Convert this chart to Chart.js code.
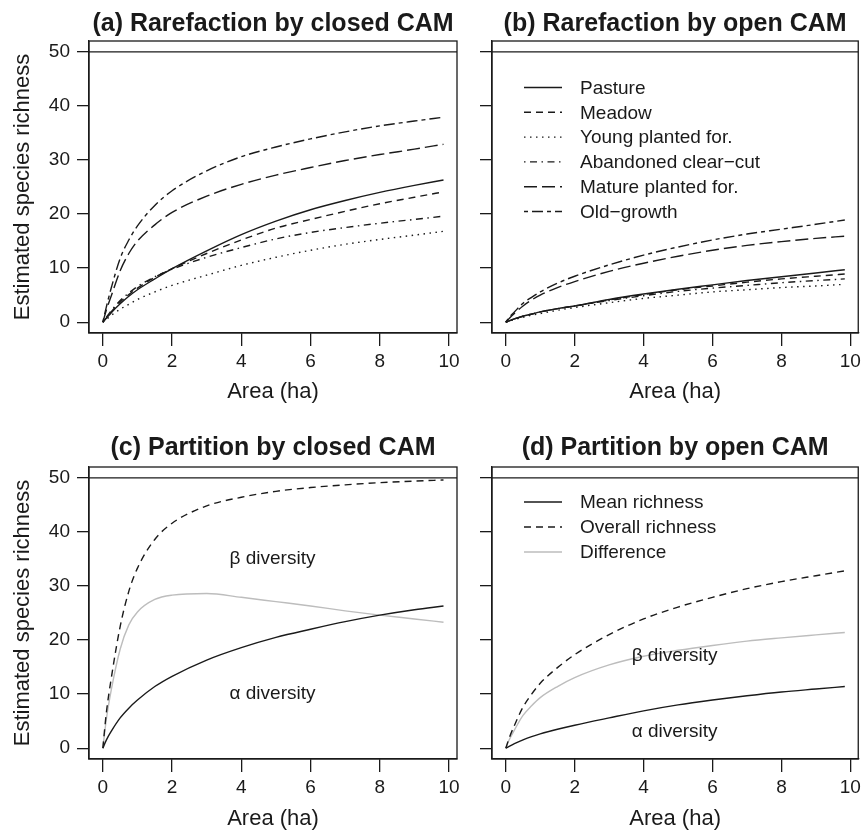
<!DOCTYPE html>
<html>
<head>
<meta charset="utf-8">
<script src="https://cdn.jsdelivr.net/npm/chart.js@4.4.0/dist/chart.umd.min.js"></script>
<style>
  body { margin: 0; background: #fff; width: 865px; height: 831px; position: relative; overflow: hidden; }
  canvas { position: absolute; }
</style>
</head>
<body>
<canvas id="chartA" width="470" height="415" style="left:0;top:0"></canvas>
<canvas id="chartB" width="395" height="415" style="left:470px;top:0"></canvas>
<canvas id="chartC" width="470" height="416" style="left:0;top:415px"></canvas>
<canvas id="chartD" width="395" height="416" style="left:470px;top:415px"></canvas>
<script>
// area sampled along the curves (ha)
const area = [0, 0.1, 0.25, 0.5, 0.75, 1, 1.5, 2, 3, 4, 5, 6, 7, 8, 9, 9.84];

const habitats = ["Pasture", "Meadow", "Young planted for.", "Abandoned clear\u2212cut", "Mature planted for.", "Old\u2212growth"];

// (a) rarefaction, closed CAM
const closedPasture   = [0, 0.7, 1.8, 3.4, 4.8, 6.0, 8.0, 9.9, 13.2, 16.2, 18.7, 20.8, 22.5, 24.0, 25.3, 26.3];
const closedMeadow    = [0, 0.8, 2.0, 3.7, 5.1, 6.3, 8.3, 9.9, 12.7, 15.2, 17.4, 19.0, 20.5, 21.9, 23.1, 24.1];
const closedYoung     = [0, 0.5, 1.3, 2.4, 3.3, 4.2, 5.6, 6.8, 8.7, 10.5, 12.0, 13.3, 14.4, 15.3, 16.1, 16.8];
const closedAbandoned = [0, 0.9, 2.2, 4.0, 5.4, 6.6, 8.4, 9.8, 12.0, 13.8, 15.4, 16.6, 17.5, 18.3, 19.0, 19.6];
const closedMature    = [0, 2.2, 5.0, 9.5, 12.7, 15.0, 18.0, 20.3, 23.3, 25.5, 27.2, 28.6, 29.9, 31.0, 32.0, 32.9];
const closedOld       = [0, 2.8, 6.5, 11.8, 15.2, 17.8, 21.6, 24.3, 28.0, 30.6, 32.4, 33.9, 35.2, 36.3, 37.2, 37.9];

// (b) rarefaction, open CAM
const openPasture   = [0, 0.25, 0.6, 1.1, 1.5, 1.9, 2.5, 3.0, 4.2, 5.2, 6.1, 6.9, 7.7, 8.4, 9.1, 9.7];
const openMeadow    = [0, 0.25, 0.6, 1.1, 1.5, 1.9, 2.5, 3.0, 4.1, 5.1, 6.0, 6.7, 7.4, 8.0, 8.5, 8.9];
const openYoung     = [0, 0.2, 0.5, 0.9, 1.3, 1.6, 2.2, 2.7, 3.6, 4.4, 5.0, 5.6, 6.0, 6.4, 6.7, 7.0];
const openAbandoned = [0, 0.25, 0.6, 1.1, 1.5, 1.9, 2.5, 3.0, 4.0, 4.9, 5.7, 6.3, 6.8, 7.3, 7.7, 8.0];
const openMature    = [0, 0.7, 1.6, 3.0, 4.1, 5.0, 6.4, 7.5, 9.4, 10.9, 12.2, 13.3, 14.2, 14.9, 15.5, 15.9];
const openOld       = [0, 0.9, 1.9, 3.5, 4.6, 5.6, 7.2, 8.5, 10.6, 12.4, 13.9, 15.2, 16.3, 17.2, 18.1, 18.9];

// (c) partition, closed CAM
const closedMean    = [0, 1.5, 3.2, 5.6, 7.4, 8.9, 11.4, 13.3, 16.3, 18.6, 20.5, 22.0, 23.4, 24.6, 25.6, 26.3];
const closedOverall = [0, 6.5, 13.2, 22.5, 29.0, 33.3, 38.6, 41.6, 44.8, 46.4, 47.5, 48.2, 48.7, 49.1, 49.4, 49.6];
const closedDiff    = [0, 5.3, 11.0, 18.3, 22.8, 25.2, 27.5, 28.3, 28.6, 27.9, 27.1, 26.3, 25.4, 24.6, 23.9, 23.3];

// (d) partition, open CAM
const openMean    = [0, 0.35, 0.85, 1.55, 2.15, 2.65, 3.5, 4.25, 5.6, 6.9, 8.0, 8.9, 9.7, 10.4, 10.95, 11.4];
const openOverall = [0, 1.9, 4.2, 7.6, 10.0, 12.0, 14.9, 17.3, 21.0, 23.9, 26.1, 27.9, 29.5, 30.8, 31.9, 32.8];
const openDiff    = [0, 1.55, 3.35, 6.05, 7.85, 9.35, 11.4, 13.05, 15.4, 17.0, 18.1, 19.0, 19.8, 20.4, 20.95, 21.4];

const partitionNames = ["Mean richness", "Overall richness", "Difference"];
const diversityLabels = ["\u03b2 diversity", "\u03b1 diversity"];
const diversityX = 4.9;
const closedLabelY = [35, 10];
const openLabelY = [17, 3];

const totalSpecies = 50;
const yTicks = [0, 10, 20, 30, 40, 50];
const xTicks = [0, 2, 4, 6, 8, 10];

const ink = "#1a1a1a";
const grey = "#bdbdbd";
const fontFam = "'Liberation Sans', Arial, Helvetica, sans-serif";

// R line types
const lty = {
  solid: [],
  dashed: [7, 5],
  dotted: [1.5, 4.5],
  dotdash: [1.5, 4.5, 7, 4.5],
  longdash: [13, 5],
  twodash: [4, 4, 11, 4],
};
const habitatDash = [lty.solid, lty.dashed, lty.dotted, lty.dotdash, lty.longdash, lty.twodash];

Chart.defaults.font.family = fontFam;
Chart.defaults.color = ink;

function points(ys) {
  return area.map((x, i) => ({ x: x, y: ys[i] }));
}

function series(label, ys, dash, color) {
  return {
    label: label,
    data: points(ys),
    borderColor: color || ink,
    borderWidth: 1.4,
    borderDash: dash,
    pointRadius: 0,
    fill: false,
    cubicInterpolationMode: "monotone",
  };
}

const panelDecor = {
  id: "panelDecor",
  afterDatasetsDraw(chart, args, opts) {
    const { ctx, chartArea: a, scales } = chart;
    ctx.save();
    ctx.strokeStyle = ink;
    ctx.lineWidth = 1.3;
    ctx.setLineDash([]);
    const yRef = scales.y.getPixelForValue(totalSpecies);
    ctx.beginPath();
    ctx.moveTo(a.left, yRef);
    ctx.lineTo(a.right, yRef);
    ctx.stroke();
    ctx.strokeRect(a.left, a.top, a.right - a.left, a.bottom - a.top);

    ctx.fillStyle = ink;
    ctx.font = "bold 25px " + fontFam;
    ctx.textAlign = "center";
    ctx.textBaseline = "alphabetic";
    ctx.fillText(opts.title, (a.left + a.right) / 2, a.top - opts.titleGap);

    ctx.font = "19px " + fontFam;
    if (opts.legendTop != null) {
      chart.data.datasets.forEach((ds, i) => {
        const y = a.top + opts.legendTop + i * opts.legendStep;
        ctx.strokeStyle = ds.borderColor;
        ctx.lineWidth = ds.borderWidth;
        ctx.setLineDash(ds.borderDash);
        ctx.beginPath();
        ctx.moveTo(a.left + 32, y);
        ctx.lineTo(a.left + 70, y);
        ctx.stroke();
        ctx.setLineDash([]);
        ctx.textAlign = "left";
        ctx.textBaseline = "middle";
        ctx.fillText(ds.label, a.left + 88, y + 1);
      });
    }
    if (opts.labelY) {
      ctx.textAlign = "center";
      ctx.textBaseline = "middle";
      opts.labelY.forEach((v, i) => {
        ctx.fillText(diversityLabels[i], scales.x.getPixelForValue(diversityX), scales.y.getPixelForValue(v));
      });
    }
    ctx.restore();
  },
};

function axes(withLabels, yWidth, xHeight, xTitlePad) {
  return {
    x: {
      type: "linear",
      min: -0.4,
      max: 10.23,
      afterFit: (s) => { s.height = xHeight; },
      afterBuildTicks: (s) => { s.ticks = xTicks.map((v) => ({ value: v })); },
      border: { display: true, color: ink, width: 1.3 },
      grid: { drawOnChartArea: false, drawTicks: true, tickLength: 13, color: ink, lineWidth: 1.3 },
      ticks: { autoSkip: false, maxRotation: 0, padding: 4, font: { size: 19 }, color: ink },
      title: { display: true, text: "Area (ha)", color: ink, font: { size: 22, lineHeight: 1 }, padding: { top: 0, bottom: xTitlePad } },
    },
    y: {
      type: "linear",
      min: -2,
      max: 52,
      afterFit: (s) => { s.width = yWidth; },
      afterBuildTicks: (s) => { s.ticks = yTicks.map((v) => ({ value: v })); },
      border: { display: true, color: ink, width: 1.3 },
      grid: { drawOnChartArea: false, drawTicks: true, tickLength: 12, color: ink, lineWidth: 1.3 },
      ticks: { display: withLabels, autoSkip: false, padding: 7, font: { size: 19 }, color: ink },
      title: { display: withLabels, text: "Estimated species richness", color: ink, font: { size: 22, lineHeight: 1 }, padding: { top: 12, bottom: 0 } },
    },
  };
}

function makePanel(id, datasets, withLabels, pad, xHeight, xTitlePad, decor) {
  return new Chart(document.getElementById(id), {
    type: "line",
    data: { datasets: datasets },
    options: {
      responsive: false,
      animation: false,
      devicePixelRatio: 1,
      layout: { padding: { left: 0, top: pad.top, right: pad.right, bottom: 0 } },
      scales: axes(withLabels, withLabels ? 89 : 22, xHeight, xTitlePad),
      plugins: { legend: { display: false }, tooltip: { enabled: false }, panelDecor: decor },
    },
    plugins: [panelDecor],
  });
}

const closedRare = [closedPasture, closedMeadow, closedYoung, closedAbandoned, closedMature, closedOld];
const openRare = [openPasture, openMeadow, openYoung, openAbandoned, openMature, openOld];

makePanel("chartA", closedRare.map((ys, i) => series(habitats[i], ys, habitatDash[i])),
  true, { top: 41, right: 13 }, 82, 12, { title: "(a) Rarefaction by closed CAM", titleGap: 10 });

makePanel("chartB", openRare.map((ys, i) => series(habitats[i], ys, habitatDash[i])),
  false, { top: 41, right: 5 }, 82, 12,
  { title: "(b) Rarefaction by open CAM", titleGap: 10, legendTop: 46.5, legendStep: 24.8 });

makePanel("chartC", [
    series(partitionNames[0], closedMean, lty.solid),
    series(partitionNames[1], closedOverall, lty.dashed),
    series(partitionNames[2], closedDiff, lty.solid, grey),
  ], true, { top: 52, right: 13 }, 72, 1,
  { title: "(c) Partition by closed CAM", titleGap: 12, labelY: closedLabelY });

makePanel("chartD", [
    series(partitionNames[0], openMean, lty.solid),
    series(partitionNames[1], openOverall, lty.dashed),
    series(partitionNames[2], openDiff, lty.solid, grey),
  ], false, { top: 52, right: 5 }, 72, 1,
  { title: "(d) Partition by open CAM", titleGap: 12, legendTop: 35, legendStep: 25, labelY: openLabelY });
</script>
</body>
</html>
